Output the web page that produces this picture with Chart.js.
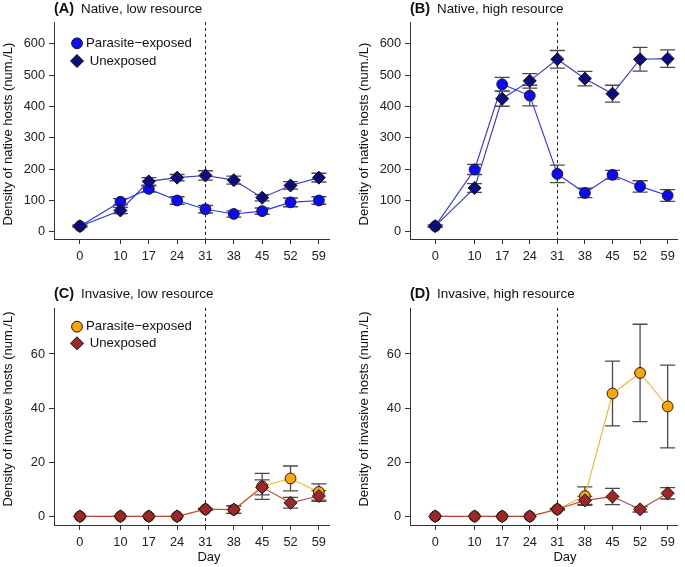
<!DOCTYPE html>
<html>
<head>
<meta charset="utf-8">
<script src="https://cdn.jsdelivr.net/npm/chart.js@4.4.0/dist/chart.umd.min.js"></script>
<style>
    body { margin: 0; background: #fff; }
    #wrap { position: relative; width: 685px; height: 567px; overflow: hidden; }
    canvas { position: absolute; }
</style>
</head>
<body>
<div id="wrap">
    <canvas id="chartA" width="342" height="280" style="left:0;top:0"></canvas>
    <canvas id="chartB" width="329" height="280" style="left:356px;top:0"></canvas>
    <canvas id="chartC" width="342" height="287" style="left:0;top:280px"></canvas>
    <canvas id="chartD" width="329" height="287" style="left:356px;top:280px"></canvas>
</div>
<script>
// === Data ===
const days = [0, 10, 17, 24, 31, 38, 45, 52, 59];
const treatmentDay = 31;
const nativeTicks = [0, 100, 200, 300, 400, 500, 600];
const invasiveTicks = [0, 20, 40, 60];
const seriesLabels = ["Parasite\u2212exposed", " Unexposed"];

// (A) Native, low resource
const nativeLowExposed   = [18, 96, 137, 100, 72, 57, 66, 94, 100];
const nativeLowExposedSE = [3, 10, 10, 12, 12, 10, 10, 14, 12];
const nativeLowUnexp     = [18, 68, 161, 173, 180, 165, 109, 148, 173];
const nativeLowUnexpSE   = [3, 10, 12, 10, 15, 13, 10, 12, 14];

// (B) Native, high resource
const nativeHighExposed   = [18, 199, 471, 435, 185, 124, 182, 145, 116];
const nativeHighExposedSE = [3, 16, 22, 33, 28, 15, 14, 18, 19];
const nativeHighUnexp     = [18, 140, 425, 482, 551, 489, 441, 551, 553];
const nativeHighUnexpSE   = [3, 14, 24, 23, 28, 23, 27, 38, 28];

// (C) Invasive, low resource
const invLowExposed   = [0, 0, 0, 0, 2.6, 2.5, 11.1, 14, 9];
const invLowExposedSE = [0, 0, 0, 0, 0.3, 1.4, 4.8, 4.6, 3];
const invLowUnexp     = [0, 0, 0, 0, 2.6, 2.5, 10.7, 5, 7.5];
const invLowUnexpSE   = [0, 0, 0, 0, 0.3, 1.4, 2.8, 2, 2];

// (D) Invasive, high resource
const invHighExposed   = [0, 0, 0, 0, 2.6, 7.5, 45.4, 53, 40.6];
const invHighExposedSE = [0, 0, 0, 0, 0.3, 3.4, 12, 18, 15.3];
const invHighUnexp     = [0, 0, 0, 0, 2.6, 5.9, 7.3, 2.6, 8.5];
const invHighUnexpSE   = [0, 0, 0, 0, 0.3, 1.5, 3, 1, 2.1];

const FONT = "'Liberation Sans', Arial, sans-serif";
Chart.defaults.font.family = FONT;
Chart.defaults.color = '#1a1a1a';

const nativeColors = { expLine: '#2f2ff5', expFill: '#0a0aff', unLine: '#3838c8', unFill: '#0c0c80' };
const invColors = { expLine: '#ffb020', expFill: '#ffa500', unLine: '#c04a40', unFill: '#a0262a' };

function pts(vals) {
    return days.map((d, i) => ({ x: d, y: vals[i] }));
}

// === Error bars (behind the points) ===
const errorBars = {
    id: 'errorBars',
    beforeDatasetsDraw(chart) {
        const { ctx, scales: { x, y } } = chart;
        ctx.save();
        ctx.strokeStyle = '#4a4a4a';
        ctx.lineWidth = 1.3;
        chart.data.datasets.forEach(ds => {
            ds.data.forEach((p, i) => {
                const se = ds.errors[i];
                if (!se) return;
                const px = x.getPixelForValue(p.x);
                const top = y.getPixelForValue(p.y + se);
                const bot = y.getPixelForValue(p.y - se);
                ctx.beginPath();
                ctx.moveTo(px, top); ctx.lineTo(px, bot);
                ctx.moveTo(px - 7.5, top); ctx.lineTo(px + 7.5, top);
                ctx.moveTo(px - 7.5, bot); ctx.lineTo(px + 7.5, bot);
                ctx.stroke();
            });
        });
        ctx.restore();
    }
};

// === Titles, dashed line, legend ===
const panelDecor = {
    id: 'panelDecor',
    beforeDatasetsDraw(chart) {
        const { ctx, chartArea, scales: { x } } = chart;
        const px = Math.round(x.getPixelForValue(treatmentDay)) + 0.5;
        ctx.save();
        ctx.strokeStyle = '#222';
        ctx.lineWidth = 1;
        ctx.setLineDash([3, 3]);
        ctx.beginPath();
        ctx.moveTo(px, chartArea.top);
        ctx.lineTo(px, chartArea.bottom);
        ctx.stroke();
        ctx.restore();
    },
    afterDraw(chart, args, opts) {
        const { ctx, chartArea } = chart;
        ctx.save();
        ctx.fillStyle = '#111';
        ctx.textBaseline = 'middle';
        // panel title
        ctx.font = 'bold 14.5px ' + FONT;
        ctx.fillText(opts.tag, chartArea.left, opts.titleY);
        ctx.font = '13.4px ' + FONT;
        ctx.fillText(opts.title, chartArea.left + 27, opts.titleY);
        // y title
        ctx.save();
        ctx.translate(8, opts.yTitleY);
        ctx.rotate(-Math.PI / 2);
        ctx.textAlign = 'center';
        ctx.font = '13px ' + FONT;
        ctx.fillText(opts.yTitle, 0, 0);
        ctx.restore();
        // x title
        if (opts.xTitle) {
            ctx.textAlign = 'center';
            ctx.font = '13px ' + FONT;
            ctx.fillText(opts.xTitle, chartArea.left + 155, opts.xTitleY);
        }
        // legend
        if (opts.legendY) {
            ctx.textAlign = 'left';
            ctx.font = '13.2px ' + FONT;
            chart.data.datasets.forEach((ds, i) => {
                const ly = opts.legendY[i];
                const lx = chartArea.left + 23;
                ctx.fillStyle = ds.pointBackgroundColor;
                ctx.strokeStyle = '#111';
                ctx.lineWidth = 1;
                Chart.helpers.drawPoint(ctx, { pointStyle: ds.pointStyle, radius: ds.pointRadius, rotation: 0, borderWidth: 1 }, lx, ly);
                ctx.fillStyle = '#111';
                ctx.fillText(ds.label, lx + 9, ly);
            });
        }
        ctx.restore();
    }
};

function makeChart(id, c) {
    const axisGrid = { display: true, drawOnChartArea: false, drawTicks: true, tickLength: 5, tickColor: '#333', lineWidth: 1 };
    const axisBorder = { display: true, color: '#333', width: 1 };
    return new Chart(document.getElementById(id), {
        type: 'line',
        data: {
            datasets: [
                {
                    label: seriesLabels[0], data: pts(c.exposed), errors: c.exposedSE, order: 1,
                    borderColor: c.colors.expLine, borderWidth: 1.1,
                    pointStyle: 'circle', pointRadius: 5.4, pointBackgroundColor: c.colors.expFill,
                    pointBorderColor: '#1a1a1a', pointBorderWidth: 1, clip: false
                },
                {
                    label: seriesLabels[1], data: pts(c.unexp), errors: c.unexpSE, order: 0,
                    borderColor: c.colors.unLine, borderWidth: 1.1,
                    pointStyle: 'rectRot', pointRadius: 6.5, pointBackgroundColor: c.colors.unFill,
                    pointBorderColor: '#111', pointBorderWidth: 1, clip: false
                }
            ]
        },
        options: {
            responsive: false,
            animation: false,
            events: [],
            layout: { padding: { top: c.padTop, right: c.padRight, left: 0, bottom: 0 } },
            plugins: {
                legend: { display: false },
                tooltip: { enabled: false },
                panelDecor: c.decor
            },
            scales: {
                x: {
                    type: 'linear', min: -6.4, max: 61.5,
                    afterFit: s => { s.height = c.xHeight; },
                    afterBuildTicks: s => { s.ticks = days.map(v => ({ value: v })); },
                    grid: axisGrid, border: axisBorder,
                    ticks: { autoSkip: false, maxRotation: 0, padding: 5, color: '#222', font: { size: 12.8 } }
                },
                y: {
                    type: 'linear', min: c.yMin, max: c.yMax,
                    afterFit: s => { s.width = 54; },
                    afterBuildTicks: s => { s.ticks = c.yTicks.map(v => ({ value: v })); },
                    grid: axisGrid, border: axisBorder,
                    ticks: { padding: 4, color: '#222', font: { size: 12.8 } }
                }
            }
        },
        plugins: [errorBars, panelDecor]
    });
}

const nativeY = { yMin: -23, yMax: 670, yTicks: nativeTicks, padTop: 22, xHeight: 41 };
const invY = { yMin: -3.2, yMax: 77, yTicks: invasiveTicks, padTop: 28, xHeight: 42 };
const nativeTitle = 'Density of native hosts (num./L)';
const invTitle = 'Density of invasive hosts (num./L)';

makeChart('chartA', Object.assign({}, nativeY, {
    exposed: nativeLowExposed, exposedSE: nativeLowExposedSE,
    unexp: nativeLowUnexp, unexpSE: nativeLowUnexpSE,
    colors: nativeColors, padRight: 13,
    decor: { tag: '(A)', title: 'Native, low resource', titleY: 9, yTitle: nativeTitle, yTitleY: 134, legendY: [43.3, 61] }
}));
makeChart('chartB', Object.assign({}, nativeY, {
    exposed: nativeHighExposed, exposedSE: nativeHighExposedSE,
    unexp: nativeHighUnexp, unexpSE: nativeHighUnexpSE,
    colors: nativeColors, padRight: 0,
    decor: { tag: '(B)', title: 'Native, high resource', titleY: 9, yTitle: nativeTitle, yTitleY: 134 }
}));
makeChart('chartC', Object.assign({}, invY, {
    exposed: invLowExposed, exposedSE: invLowExposedSE,
    unexp: invLowUnexp, unexpSE: invLowUnexpSE,
    colors: invColors, padRight: 13,
    decor: { tag: '(C)', title: 'Invasive, low resource', titleY: 14, yTitle: invTitle, yTitleY: 129, xTitle: 'Day', xTitleY: 277, legendY: [46.7, 63.3] }
}));
makeChart('chartD', Object.assign({}, invY, {
    exposed: invHighExposed, exposedSE: invHighExposedSE,
    unexp: invHighUnexp, unexpSE: invHighUnexpSE,
    colors: invColors, padRight: 0,
    decor: { tag: '(D)', title: 'Invasive, high resource', titleY: 14, yTitle: invTitle, yTitleY: 129, xTitle: 'Day', xTitleY: 277 }
}));
</script>
</body>
</html>
